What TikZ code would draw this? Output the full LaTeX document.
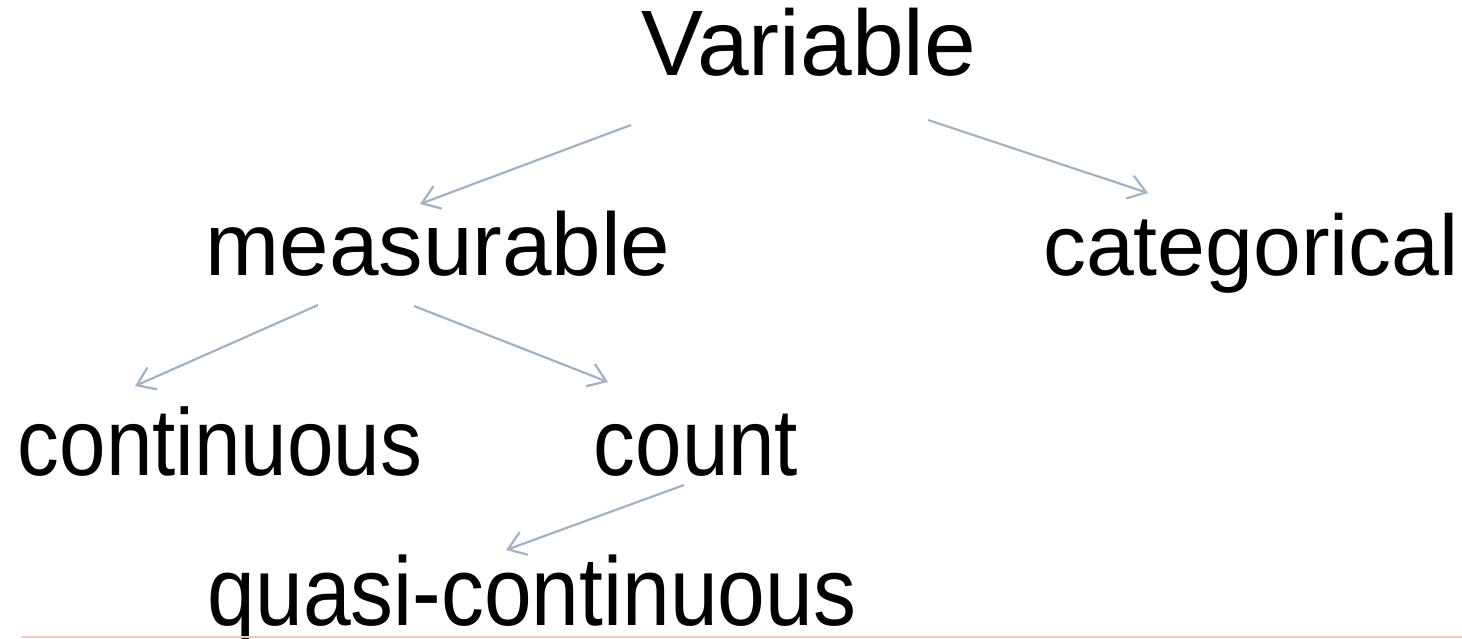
\documentclass[tikz,border=0pt]{standalone}
\usepackage{fontspec}
\setmainfont{Liberation Sans}
\newfontfamily\narrowfont[FakeStretch=0.88]{Liberation Sans}
\usetikzlibrary{arrows.meta}
\definecolor{arrowgray}{RGB}{163,178,194}
\definecolor{rulepink}{RGB}{244,196,196}
\begin{document}
\begin{tikzpicture}[x=1pt,y=-1pt,
  lbl/.style={inner sep=0pt,anchor=base,font=\fontsize{89}{100}\selectfont},
  nlbl/.style={inner sep=0pt,anchor=base,font=\narrowfont\fontsize{95}{100}\selectfont},
  arr/.style={draw=arrowgray,line width=2.2pt,-{Straight Barb[length=17pt,width=24pt]}}]
\useasboundingbox (0,0) rectangle (1462,638);
\node[lbl,font=\fontsize{93}{100}\selectfont]  (var)   at (809,75)  {Variable};
\node[lbl]  (meas)  at (438,275) {measurable};
\node[lbl,font=\fontsize{86}{100}\selectfont]  (cat)   at (1251,275) {categorical};
\node[nlbl] (cont)  at (220,475) {continuous};
\node[nlbl] (count) at (696,475) {count};
\node[nlbl,font=\narrowfont\fontsize{97.5}{100}\selectfont] (quasi) at (532,625) {quasi-continuous};
\draw[arr] ([shift={(-178,50)}]var.base) -- ([shift={(-18,-71)}]meas.base);
\draw[arr] ([shift={(119,45)}]var.base) -- ([shift={(-103,-82)}]cat.base);
\draw[arr] ([shift={(-120,30)}]meas.base) -- ([shift={(-85,-89)}]cont.base);
\draw[arr] ([shift={(-24,31)}]meas.base) -- ([shift={(-88,-93)}]count.base);
\draw[arr] ([shift={(-12,10)}]count.base) -- ([shift={(-26,-75)}]quasi.base);
\coordinate (ruleL) at (21,637);
\coordinate (ruleR) at (1462,637);
\draw[rulepink,line width=1.5pt] (ruleL) -- (ruleR);
\end{tikzpicture}
\end{document}
